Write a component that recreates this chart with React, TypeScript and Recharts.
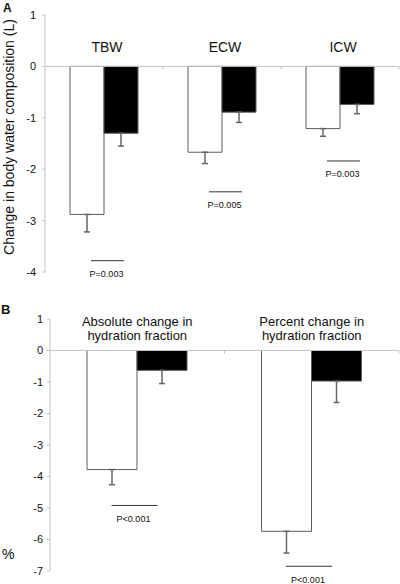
import { BarChart, Bar, XAxis, YAxis, ReferenceLine, ErrorBar } from "recharts"

const FONT = '"Liberation Sans", Arial, Helvetica, sans-serif'
const GRID = "#c4c4c4"

// Panel A: change in body water composition (L)
const catsA = ["TBW", "ECW", "ICW"]
const whiteA = [-2.88, -1.67, -1.21]
const blackA = [-1.3, -0.89, -0.74]
const whiteErrA = [0.34, 0.22, 0.15]
const blackErrA = [0.25, 0.2, 0.18]
const pTextA = ["P=0.003", "P=0.005", "P=0.003"]
const pLevelA = [-3.78, -2.44, -1.84]
const ticksA = [-4, -3, -2, -1, 0, 1]

// Panel B: hydration fraction (%)
const catsB = ["Absolute change in|hydration fraction", "Percent change in|hydration fraction"]
const whiteB = [-3.78, -5.74]
const blackB = [-0.63, -0.97]
const whiteErrB = [0.48, 0.69]
const blackErrB = [0.42, 0.68]
const pTextB = ["P<0.001", "P<0.001"]
const pLevelB = [-4.92, -6.85]
const ticksB = [-7, -6, -5, -4, -3, -2, -1, 0, 1]

const rows = (cats: string[], w: number[], b: number[], we: number[], be: number[], pl: number[], pt: string[]) =>
  cats.map((name, i) => ({
    name,
    white: w[i],
    black: b[i],
    whiteErr: [we[i], 0],
    blackErr: [be[i], 0],
    pLevel: pl[i],
    pText: pt[i],
  }))

const CatTick = ({ x, y, payload, dx, dy, size, gap }: any) => {
  const lines = String(payload.value).split("|")
  return (
    <text x={x + dx} y={y + dy} textAnchor="middle" fontSize={size} fontFamily={FONT} fill="#111">
      {lines.map((l, i) => (
        <tspan key={i} x={x + dx} dy={i === 0 ? 0 : gap}>{l}</tspan>
      ))}
    </text>
  )
}

// significance bracket: drawn at the end of an invisible bar that runs to pLevel
const PShape = ({ x, y, width, height, payload, shift }: any) => {
  const yb = Math.max(y, y + height)
  const x0 = x + shift
  return (
    <g>
      <line x1={x0} x2={x0 + width} y1={yb} y2={yb} stroke="#333" strokeWidth={1} />
      <text x={x0 + width / 2 - 1} y={yb + 16.4} textAnchor="middle" fontSize={9} fontFamily={FONT} fill="#111">
        {payload.pText}
      </text>
    </g>
  )
}

function Panel(props: any) {
  const { data, ticks, width, height, top, bottom, axisW, tickMargin, barSize,
    labelDx, labelDy, labelSize, labelGap, tickLen, pLen, pShift } = props
  return (
    <BarChart width={width} height={height} data={data}
      margin={{ top: 0, right: 1, bottom, left: 0 }} barGap={0}>
      <XAxis
        dataKey="name"
        orientation="top"
        height={top}
        axisLine={false}
        tickLine={false}
        tickSize={0}
        tickMargin={0}
        interval={0}
        tick={(p: any) => <CatTick {...p} dx={labelDx} dy={labelDy} size={labelSize} gap={labelGap} />}
      />
      <XAxis xAxisId="p" dataKey="name" hide />
      <YAxis
        width={axisW}
        domain={[ticks[0], ticks[ticks.length - 1]]}
        ticks={ticks}
        interval={0}
        tickSize={3}
        tickMargin={tickMargin}
        axisLine={{ stroke: GRID }}
        tickLine={{ stroke: GRID }}
        tick={{ fontSize: 11, fill: "#111", fontFamily: FONT }}
      />
      <ReferenceLine y={0} stroke={GRID} />
      {data.map((d: any) => (
        <ReferenceLine
          key={"t" + d.name}
          stroke={GRID}
          position="end"
          segment={[{ x: d.name, y: 0 }, { x: d.name, y: -tickLen }]}
        />
      ))}
      <Bar dataKey="white" fill="#fff" stroke="#5c5c5c" barSize={barSize} isAnimationActive={false}>
        <ErrorBar dataKey="whiteErr" width={3} stroke="#666" direction="y" />
      </Bar>
      <Bar dataKey="black" fill="#000" stroke="#5c5c5c" barSize={barSize} isAnimationActive={false}>
        <ErrorBar dataKey="blackErr" width={3} stroke="#666" direction="y" />
      </Bar>
      <Bar
        xAxisId="p"
        dataKey="pLevel"
        barSize={pLen}
        fill="none"
        isAnimationActive={false}
        shape={(s: any) => <PShape {...s} shift={pShift} />}
      />
    </BarChart>
  )
}

const abs = (top: number, left: number, extra: any = {}) => ({
  position: "absolute" as const, top, left, fontFamily: FONT, color: "#111", lineHeight: 1, ...extra,
})

export default function App() {
  const dataA = rows(catsA, whiteA, blackA, whiteErrA, blackErrA, pLevelA, pTextA)
  const dataB = rows(catsB, whiteB, blackB, whiteErrB, blackErrB, pLevelB, pTextB)
  return (
    <div style={{ position: "absolute", left: 0, top: 0, width: 400, height: 584, background: "#fff" }}>
      <div style={{ position: "absolute", left: 0, top: 0 }}>
        <Panel
          data={dataA} ticks={ticksA}
          width={400} height={290} top={15} bottom={18}
          axisW={45} tickMargin={6} barSize={34}
          labelDx={3} labelDy={36.7} labelSize={14} labelGap={15}
          tickLen={0.06} pLen={33} pShift={3}
        />
      </div>
      <div style={{ position: "absolute", left: 0, top: 290 }}>
        <Panel
          data={dataB} ticks={ticksB}
          width={400} height={294} top={29} bottom={13}
          axisW={50} tickMargin={4} barSize={50}
          labelDx={0} labelDy={6.7} labelSize={13} labelGap={14.5}
          tickLen={0.1} pLen={46} pShift={-2.5}
        />
      </div>
      <div style={abs(2, 3, { fontSize: 12, fontWeight: 700 })}>A</div>
      <div style={abs(303, 1, { fontSize: 13, fontWeight: 700 })}>B</div>
      <div style={abs(547, 2, { fontSize: 14 })}>%</div>
      <div
        style={abs(137, 9, {
          fontSize: 14,
          whiteSpace: "nowrap",
          transform: "translate(-50%, -50%) rotate(-90deg)",
        })}
      >
        Change in body water composition (L)
      </div>
    </div>
  )
}
